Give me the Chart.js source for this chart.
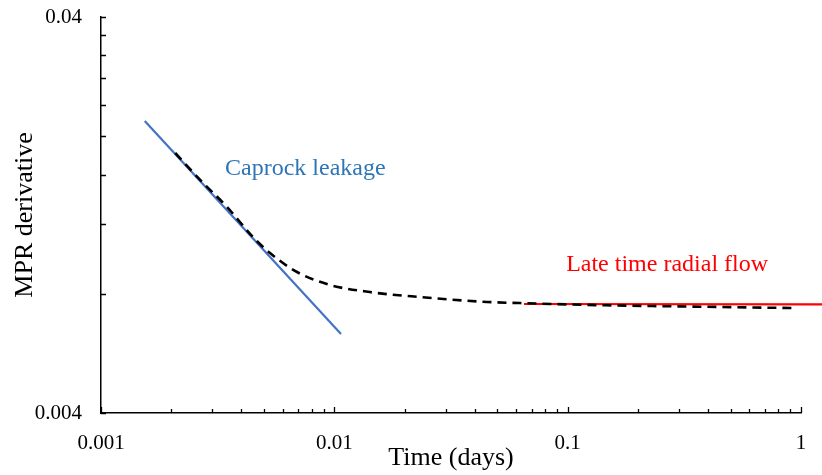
<!DOCTYPE html>
<html>
<head>
<meta charset="utf-8">
<script src="https://cdn.jsdelivr.net/npm/chart.js@4.4.1/dist/chart.umd.min.js"></script>
<style>
  html, body { margin: 0; padding: 0; background: #fff; }
  #wrap { width: 822px; height: 475px; position: relative; }
</style>
</head>
<body>
<div id="wrap"><canvas id="chart"></canvas></div>
<script>
// MPR derivative (dashed black)
const timeDays = [0.00208, 0.00266, 0.00347, 0.00448, 0.0053, 0.00692, 0.00959, 0.0142, 0.0233, 0.0451, 0.0625, 0.121, 0.232, 0.45, 0.962];
const mprDeriv = [0.01814, 0.01551, 0.01325, 0.01113, 0.01014, 0.00908, 0.00842, 0.00808, 0.00785, 0.00763, 0.00758, 0.0075, 0.00745, 0.00741, 0.00736];

// caprock leakage straight-line fit (blue)
const caprockX = [0.00154, 0.01068];
const caprockY = [0.02185, 0.00633];

// late time radial flow fit (red)
const radialX = [0.065, 1.23];
const radialY = [0.00754, 0.00752];

// tick values (Excel-style log axes)
const xTicks = [0.001, 0.002, 0.003, 0.004, 0.005, 0.006, 0.007, 0.008, 0.009,
                0.01, 0.02, 0.03, 0.04, 0.05, 0.06, 0.07, 0.08, 0.09,
                0.1, 0.2, 0.3, 0.4, 0.5, 0.6, 0.7, 0.8, 0.9, 1];
const xLabels = ['0.001', '0.01', '0.1', '1'];
const yTicks = [0.004, 0.008, 0.012, 0.016, 0.02, 0.024, 0.028, 0.032, 0.036, 0.04];
const yLabels = ['0.004', '0.04'];

const toPoints = (xs, ys) => xs.map((x, i) => ({ x: x, y: ys[i] }));

const SERIF = '"Liberation Serif", "Times New Roman", serif';

// in-plot text labels
const notes = [
  { text: 'Caprock leakage', x: 0.0034, y: 0.01596, color: '#2E75B6' },
  { text: 'Late time radial flow', x: 0.0985, y: 0.00914, color: '#FF0000' }
];

// inward tick marks and text notes
const extras = {
  id: 'extras',
  afterDraw(chart) {
    const ctx = chart.ctx;
    const xs = chart.scales.x, ys = chart.scales.y;
    const area = chart.chartArea;
    ctx.save();
    ctx.strokeStyle = '#000';
    ctx.lineWidth = 1.3;
    ctx.beginPath();
    xTicks.forEach(v => {
      const px = Math.round(xs.getPixelForValue(v)) + 0.5;
      const len = xLabels.includes(String(v)) ? 6 : 4;
      ctx.moveTo(px, area.bottom);
      ctx.lineTo(px, area.bottom - len);
    });
    yTicks.forEach(v => {
      const py = Math.round(ys.getPixelForValue(v)) + 0.5;
      ctx.moveTo(area.left, py);
      ctx.lineTo(area.left + 5, py);
    });
    ctx.stroke();

    ctx.font = '24px ' + SERIF;
    ctx.textBaseline = 'alphabetic';
    ctx.textAlign = 'left';
    notes.forEach(n => {
      ctx.fillStyle = n.color;
      ctx.fillText(n.text, xs.getPixelForValue(n.x), ys.getPixelForValue(n.y));
    });
    ctx.restore();
  }
};

new Chart(document.getElementById('chart'), {
  type: 'scatter',
  data: {
    datasets: [
      {
        label: 'Caprock leakage',
        data: toPoints(caprockX, caprockY),
        showLine: true,
        borderColor: '#4472C4',
        borderWidth: 2.2,
        pointRadius: 0,
        order: 2
      },
      {
        label: 'Late time radial flow',
        data: toPoints(radialX, radialY),
        showLine: true,
        borderColor: '#FF0000',
        borderWidth: 2.2,
        pointRadius: 0,
        clip: false,
        order: 2
      },
      {
        label: 'MPR derivative',
        data: toPoints(timeDays, mprDeriv),
        showLine: true,
        borderColor: '#000',
        borderWidth: 2.6,
        borderDash: [9, 6],
        cubicInterpolationMode: 'monotone',
        pointRadius: 0,
        order: 1
      }
    ]
  },
  options: {
    responsive: true,
    maintainAspectRatio: false,
    animation: false,
    layout: { padding: { top: 17, right: 21, left: 0, bottom: 0 } },
    plugins: {
      legend: { display: false },
      tooltip: { enabled: false }
    },
    scales: {
      x: {
        type: 'logarithmic',
        min: 0.001,
        max: 1,
        afterBuildTicks: s => { s.ticks = xTicks.map(v => ({ value: v })); },
        afterFit: s => { s.height = 62; s.paddingLeft = 0; s.paddingRight = 0; },
        grid: { display: true, drawOnChartArea: false, drawTicks: false },
        border: { display: true, color: '#000', width: 1.5 },
        ticks: {
          autoSkip: false,
          maxRotation: 0,
          padding: 18,
          color: '#000',
          font: { family: SERIF, size: 21 },
          callback: v => (xLabels.includes(String(v)) ? String(v) : '')
        },
        title: {
          display: true,
          text: 'Time (days)',
          color: '#000',
          font: { family: SERIF, size: 26 },
          padding: { top: 0, bottom: 1 }
        }
      },
      y: {
        type: 'logarithmic',
        min: 0.004,
        max: 0.04,
        afterBuildTicks: s => { s.ticks = yTicks.map(v => ({ value: v })); },
        afterFit: s => { s.width = 101; s.paddingTop = 0; s.paddingBottom = 0; },
        grid: { display: true, drawOnChartArea: false, drawTicks: false },
        border: { display: true, color: '#000', width: 1.5 },
        ticks: {
          autoSkip: false,
          padding: 19,
          color: '#000',
          font: { family: SERIF, size: 21 },
          callback: v => (yLabels.includes(String(v)) ? String(v) : '')
        },
        title: {
          display: true,
          text: 'MPR derivative',
          color: '#000',
          font: { family: SERIF, size: 26 },
          padding: { top: 10, bottom: 0 }
        }
      }
    }
  },
  plugins: [extras]
});
</script>
</body>
</html>
